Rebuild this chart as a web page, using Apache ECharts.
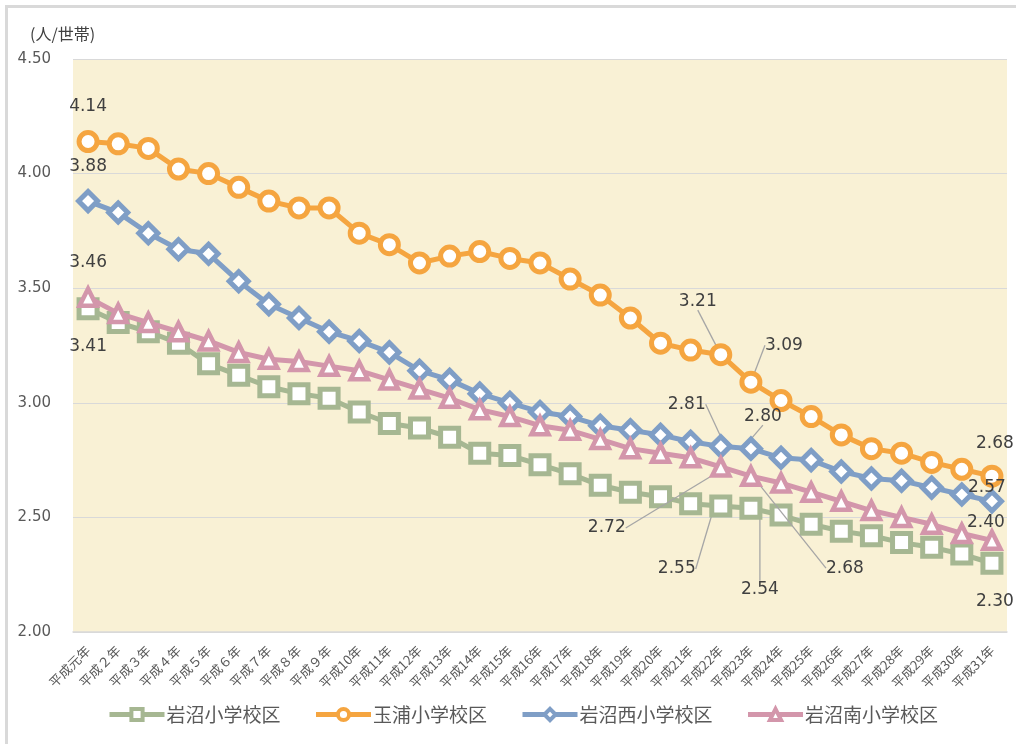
<!DOCTYPE html>
<html><head><meta charset="utf-8">
<script src="https://cdn.jsdelivr.net/npm/echarts@6/dist/echarts.min.js"></script>
<style>
html,body{margin:0;padding:0;background:#fff;overflow:hidden}
#frame{position:absolute;left:5px;top:5px;width:1100px;height:800px;border-left:3px solid #d9d9d9;border-top:3px solid #d9d9d9}
#chart{position:absolute;left:0;top:0;width:1016px;height:744px}
</style></head><body>
<div id="frame"></div><div id="chart"></div>
<script>
const categories = ['平成元年','平成２年','平成３年','平成４年','平成５年','平成６年','平成７年','平成８年','平成９年','平成10年','平成11年','平成12年','平成13年','平成14年','平成15年','平成16年','平成17年','平成18年','平成19年','平成20年','平成21年','平成22年','平成23年','平成24年','平成25年','平成26年','平成27年','平成28年','平成29年','平成30年','平成31年'];
const seriesNames = ['岩沼小学校区','玉浦小学校区','岩沼西小学校区','岩沼南小学校区'];
const iwanuma = [3.41,3.35,3.31,3.26,3.17,3.12,3.07,3.04,3.02,2.96,2.91,2.89,2.85,2.78,2.77,2.73,2.69,2.64,2.61,2.59,2.56,2.55,2.54,2.51,2.47,2.44,2.42,2.39,2.37,2.34,2.30];
const tamaura = [4.14,4.13,4.11,4.02,4.00,3.94,3.88,3.85,3.85,3.74,3.69,3.61,3.64,3.66,3.63,3.61,3.54,3.47,3.37,3.26,3.23,3.21,3.09,3.01,2.94,2.86,2.80,2.78,2.74,2.71,2.68];
const iwanumaNishi = [3.88,3.83,3.74,3.67,3.65,3.53,3.43,3.37,3.31,3.27,3.22,3.14,3.10,3.04,3.00,2.96,2.94,2.90,2.88,2.86,2.83,2.81,2.80,2.76,2.75,2.70,2.67,2.66,2.63,2.60,2.57];
const iwanumaMinami = [3.46,3.39,3.35,3.31,3.27,3.22,3.19,3.18,3.16,3.14,3.10,3.06,3.02,2.97,2.94,2.90,2.88,2.84,2.80,2.78,2.76,2.72,2.68,2.65,2.61,2.57,2.53,2.50,2.47,2.43,2.40];
const yTicks = [2.0, 2.5, 3.0, 3.5, 4.0, 4.5];

// label placement (pixel offsets from the marker), and which labels get leader lines
const labelOffsets = [
  {0:[0,38], 21:[-44,63], 22:[9,81], 30:[3,38]},
  {0:[0,-35], 21:[-23,-53], 22:[33,-37], 30:[3,-33]},
  {0:[0,-35], 21:[-34,-42], 22:[12,-32], 30:[-5,-14]},
  {0:[0,-35], 21:[-114,61], 22:[94,92], 30:[-6,-18]}
];
const leaderIdx = [21, 22];
const colors = ['#a6b792','#f5a540','#7f9ec6','#d396ab'];
const symbols = ['rect','circle','diamond','triangle'];
const symbolSizes = [18,18,19,17];

const allValues = [iwanuma, tamaura, iwanumaNishi, iwanumaMinami];

function makeSeries(si){
  const vals = allValues[si];
  const data = vals.map((v,i)=>{
    const item = {value:v};
    if (labelOffsets[si][i]) {
      item.label = {show:true};
      if (leaderIdx.indexOf(i) >= 0) item.labelLine = {show:true};
    }
    return item;
  });
  return {
    name: seriesNames[si],
    type: 'line',
    data: data,
    symbol: symbols[si],
    symbolSize: symbolSizes[si],
    z: 2 + si,
    lineStyle: {color: colors[si], width: 5},
    itemStyle: {color: '#ffffff', borderColor: colors[si], borderWidth: si===3 ? 4.5 : 5},
    label: {show:false, position:'inside', color:'#404040', fontSize:17, fontFamily:'DejaVu Sans', formatter: p => p.value.toFixed(2)},
    labelLine: {show:false, lineStyle:{color:'#a6a6a6', width:1.3}},
    labelLayout: function(p){
      const o = labelOffsets[si][p.dataIndex];
      if (!o) return {};
      return {dx:o[0], dy:o[1]};
    },
    emphasis: {disabled:true}
  };
}

const chart = echarts.init(document.getElementById('chart'), null, {renderer:'canvas'});
chart.setOption({
  animation: false,
  backgroundColor: 'transparent',
  title: {text:'(人/世帯)', left:25, top:21, textStyle:{fontSize:16, fontWeight:'normal', color:'#404040', fontFamily:"'Noto Sans CJK JP', sans-serif"}},
  grid: {left:73, right:9, top:59, bottom:112, show:true, backgroundColor:'#f9f1d5', borderWidth:0},
  legend: {
    data: seriesNames, left:107, top:705, padding:0, itemWidth:55, itemHeight:14, itemGap:33,
    lineStyle:{width:5},
    itemStyle:{borderWidth:4},
    textStyle:{fontSize:19, color:'#595959', fontFamily:"'Noto Sans CJK JP', sans-serif", padding:[0,0,0,-3]}
  },
  xAxis: {
    type:'category', data: categories, boundaryGap:true,
    axisTick:{show:false},
    axisLine:{lineStyle:{color:'#d9d9d9', width:1.5}},
    axisLabel:{rotate:45, interval:0, fontSize:13, color:'#595959', margin:16, fontFamily:"'Noto Sans CJK JP', sans-serif"}
  },
  yAxis: {
    type:'value', min: yTicks[0], max: yTicks[yTicks.length-1], interval: yTicks[1]-yTicks[0],
    axisLine:{show:false}, axisTick:{show:false},
    splitLine:{lineStyle:{color:'#d9d9d9', width:1}},
    axisLabel:{fontSize:15, color:'#595959', margin:22, fontFamily:'DejaVu Sans', formatter: v => v.toFixed(2)}
  },
  series: [0,1,2,3].map(makeSeries)
});
</script>
</body></html>
